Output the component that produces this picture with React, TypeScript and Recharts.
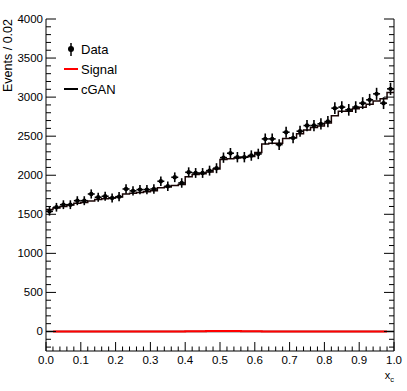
import React from 'react';
import { ComposedChart, XAxis, YAxis, Line, Scatter, ReferenceLine } from 'recharts';

// 50 bins of width 0.02 on x_c in [0, 1]
const BIN_WIDTH = 0.02;
const dataCounts = [
  1538, 1590, 1623, 1623, 1674, 1674, 1760, 1718, 1731, 1709,
  1726, 1824, 1800, 1816, 1816, 1824, 1923, 1859, 1974, 1901,
  2038, 2029, 2029, 2059, 2090, 2225, 2282, 2231, 2231, 2252,
  2273, 2465, 2465, 2392, 2551, 2478, 2564, 2636, 2636, 2658,
  2687, 2859, 2872, 2837, 2872, 2923, 2965, 3042, 2923, 3106,
];
const cganCounts = [
  1560, 1580, 1600, 1620, 1640, 1650, 1670, 1690, 1700, 1710,
  1720, 1760, 1770, 1780, 1790, 1800, 1840, 1850, 1870, 1880,
  1980, 2010, 2020, 2040, 2080, 2200, 2210, 2220, 2230, 2240,
  2290, 2400, 2410, 2410, 2470, 2480, 2530, 2580, 2610, 2630,
  2670, 2760, 2820, 2820, 2850, 2870, 2910, 2950, 2980, 3060,
];
const signalCounts = [
  null, 0, 0, 0, 0, 0, 0, 0, 0, 0,
  0, 0, 0, 0, 0, 0, 0, 0, 1, 1,
  2, 3, 4, 5, 6, 6, 6, 5, 4, 3,
  2, 1, 1, 0, 0, 0, 0, 0, 0, 0,
  0, 0, 0, 0, 0, 0, 0, 0, 0, null,
];

const xTicks = Array.from({ length: 51 }, (_, i) => +(i * BIN_WIDTH).toFixed(2));
const yTicks = Array.from({ length: 43 }, (_, i) => -200 + i * 100);

const points = dataCounts.map((v, i) => ({
  x: (i + 0.5) * BIN_WIDTH,
  y: v,
  err: Math.sqrt(v),
}));

// step histogram: value at each left edge, plus closing point at the right edge
function toSteps(counts: (number | null)[]) {
  const out: { x: number; y: number }[] = [];
  counts.forEach((v, i) => {
    if (v === null) return;
    out.push({ x: i * BIN_WIDTH, y: v });
    const next = counts[i + 1];
    if (next === undefined || next === null) out.push({ x: (i + 1) * BIN_WIDTH, y: v });
  });
  return out;
}
const cganSteps = toSteps(cganCounts);
const signalSteps = toSteps(signalCounts);

const FONT = '"Liberation Sans", Arial, Helvetica, sans-serif';
const isMajorX = (v: number) => Math.abs(v * 10 - Math.round(v * 10)) < 1e-6;
const isMajorY = (v: number) => v % 500 === 0;

const BottomTick = (p: any) => {
  const major = isMajorX(p.payload.value);
  return (
    <g>
      <line x1={p.x} x2={p.x} y1={p.y} y2={p.y - (major ? 9 : 4.5)} stroke="#000" />
      {major && (
        <text x={p.x} y={p.y + 13} textAnchor="middle" fontSize={11.5} fontFamily={FONT} fill="#000">
          {p.payload.value.toFixed(1)}
        </text>
      )}
    </g>
  );
};
const TopTick = (p: any) => {
  const major = isMajorX(p.payload.value);
  return <line x1={p.x} x2={p.x} y1={p.y} y2={p.y + (major ? 9 : 4.5)} stroke="#000" />;
};
const LeftTick = (p: any) => {
  const major = isMajorY(p.payload.value);
  return (
    <g>
      <line x1={p.x} x2={p.x + (major ? 10 : 5)} y1={p.y} y2={p.y} stroke="#000" />
      {major && (
        <text x={p.x - 3} y={p.y + 4} textAnchor="end" fontSize={11.5} fontFamily={FONT} fill="#000">
          {p.payload.value}
        </text>
      )}
    </g>
  );
};
const RightTick = (p: any) => {
  const major = isMajorY(p.payload.value);
  return <line x1={p.x} x2={p.x - (major ? 10 : 5)} y1={p.y} y2={p.y} stroke="#000" />;
};

const DataDot = (p: any) => <circle cx={p.cx} cy={p.cy} r={2.2} fill="#000" />;

export default function App() {
  return (
    <div style={{ position: 'fixed', left: 0, top: 0, width: 407, height: 391, background: '#fff', fontFamily: FONT }}>
      <ComposedChart width={407} height={391} margin={{ top: 19, right: 4, bottom: 0, left: 0 }}>
        <XAxis
          dataKey="x" type="number" domain={[0, 1]} ticks={xTicks} interval={0}
          height={40} tickSize={0} tickMargin={0} tickLine={false}
          axisLine={{ stroke: '#000' }} tick={BottomTick} allowDataOverflow
        />
        <XAxis
          xAxisId="top" orientation="top" dataKey="x" type="number" domain={[0, 1]} ticks={xTicks} interval={0}
          height={0} tickSize={0} tickMargin={0} tickLine={false}
          axisLine={{ stroke: '#000' }} tick={TopTick} allowDataOverflow
        />
        <YAxis
          type="number" domain={[-250, 4000]} ticks={yTicks} interval={0} width={46}
          tickSize={0} tickMargin={0} tickLine={false} axisLine={{ stroke: '#000' }}
          tick={LeftTick} allowDataOverflow
        />
        <YAxis
          yAxisId="right" orientation="right" type="number" domain={[-250, 4000]} ticks={yTicks} interval={0}
          width={9} tickSize={0} tickMargin={0} tickLine={false} axisLine={{ stroke: '#000' }}
          tick={RightTick} allowDataOverflow
        />
        <ReferenceLine y={0} stroke="#000" strokeWidth={1.5} />
        <Line
          data={signalSteps} dataKey="y" type="stepAfter" stroke="#ff0000" strokeWidth={2}
          dot={false} isAnimationActive={false}
        />
        <Line
          data={cganSteps} dataKey="y" type="stepAfter" stroke="#1a0505" strokeWidth={1.5}
          dot={false} isAnimationActive={false}
        />
        {points.map((p, i) => (
          <ReferenceLine
            key={`ey${i}`} ifOverflow="visible" stroke="#000" strokeWidth={1.6}
            segment={[{ x: p.x, y: p.y - 1.4 * p.err }, { x: p.x, y: p.y + 1.4 * p.err }]}
          />
        ))}
        {points.map((p, i) => (
          <ReferenceLine
            key={`ex${i}`} ifOverflow="visible" stroke="#000" strokeWidth={1.6}
            segment={[{ x: p.x - BIN_WIDTH / 2, y: p.y }, { x: p.x + BIN_WIDTH / 2, y: p.y }]}
          />
        ))}
        <Scatter data={points} dataKey="y" shape={DataDot} isAnimationActive={false} />
      </ComposedChart>

      <svg width={407} height={391} style={{ position: 'absolute', left: 0, top: 0, pointerEvents: 'none' }}>
        <text
          transform="translate(12, 19) rotate(-90)" textAnchor="end" fontSize={12.5}
          fontFamily={FONT} fill="#000"
        >
          Events / 0.02
        </text>
        <text x={394} y={379} textAnchor="end" fontSize={11} fontFamily={FONT} fill="#000">
          x<tspan fontSize={7.5} dy={2.5}>c</tspan>
        </text>
        {/* legend */}
        <line x1={71} x2={71} y1={43} y2={56} stroke="#000" strokeWidth={1.5} />
        <circle cx={71} cy={49} r={3} fill="#000" />
        <text x={81} y={53.5} fontSize={13} fontFamily={FONT} fill="#000">Data</text>
        <line x1={64} x2={78} y1={69} y2={69} stroke="#ff0000" strokeWidth={2} />
        <text x={81} y={73.5} fontSize={13} fontFamily={FONT} fill="#000">Signal</text>
        <line x1={64} x2={78} y1={89} y2={89} stroke="#000" strokeWidth={2} />
        <text x={81} y={93.5} fontSize={13} fontFamily={FONT} fill="#000">cGAN</text>
      </svg>
    </div>
  );
}
